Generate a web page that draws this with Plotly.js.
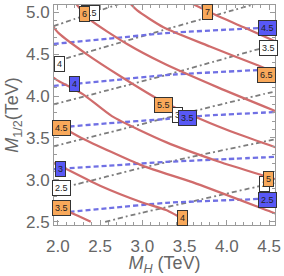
<!DOCTYPE html>
<html>
<head>
<meta charset="utf-8">
<script src="https://cdn.plot.ly/plotly-3.0.1.min.js"></script>
<style>html,body{margin:0;padding:0;background:#fff;}#chart{width:284px;height:276px;}</style>
</head>
<body>
<div id="chart"></div>
<script>
// ---- Data (M_H in TeV, M_1/2 in TeV) ----
// Red solid contours (orange labels)
const redLevels = ['3.5', '4', '4.5', '5', '5.5', '6', '6.5', '7'];
const redX = [
  [1.95, 2.05, 2.11, 2.25, 2.39],
  [1.95, 2.0, 2.5, 3.0, 3.28, 3.54],
  [1.95, 2.0, 2.28, 3.0, 3.6, 4.52, 4.6],
  [1.95, 1.99, 2.3, 2.64, 3.28, 3.9, 4.47, 4.6],
  [1.95, 2.01, 2.34, 2.75, 3.21, 3.68, 4.15, 4.6],
  [2.2, 2.37, 2.82, 3.25, 3.9, 4.6],
  [2.85, 2.94, 3.25, 3.8, 4.38, 4.6],
  [3.55, 3.85, 4.2, 4.6]
];
const redY = [
  [2.72, 2.665, 2.63, 2.565, 2.5],
  [3.2, 3.18, 2.93, 2.73, 2.64, 2.5],
  [3.69, 3.66, 3.5, 3.17, 2.97, 2.62, 2.59],
  [4.22, 4.19, 4.02, 3.76, 3.45, 3.22, 3.04, 3.0],
  [4.82, 4.75, 4.5, 4.23, 3.95, 3.73, 3.54, 3.38],
  [5.12, 4.92, 4.62, 4.39, 4.1, 3.81],
  [5.11, 5.02, 4.82, 4.59, 4.36, 4.27],
  [5.12, 4.975, 4.82, 4.64]
];
// Blue dashed contours (blue labels)
const blueLevels = ['2.5', '3', '3.5', '4', '4.5'];
const blueX = [
  [1.95, 2.6, 3.28, 4.4, 4.6],
  [1.95, 2.6, 3.28, 4.0, 4.6],
  [1.95, 2.6, 3.28, 3.65, 4.6],
  [1.95, 2.6, 3.28, 4.38, 4.6],
  [1.95, 2.6, 3.28, 4.38, 4.6]
];
const blueY = [
  [2.6, 2.663, 2.726, 2.774, 2.79],
  [3.127, 3.169, 3.214, 3.248, 3.276],
  [3.62, 3.675, 3.726, 3.76, 3.81],
  [4.12, 4.183, 4.25, 4.31, 4.32],
  [4.62, 4.683, 4.75, 4.81, 4.82]
];
// Gray dash-dot contours (white labels)
const grayLevels = ['2', '2.5', '3', '3.5', '4', '4.5'];
const grayX = [
  [2.56, 2.99, 3.7, 4.41, 4.6],
  [1.95, 2.15, 2.99, 3.8, 4.6],
  [1.95, 2.6, 3.28, 3.9, 4.44, 4.6],
  [1.95, 2.6, 3.28, 3.85, 4.38, 4.6],
  [1.95, 2.1, 2.7, 3.25, 4.12, 4.33],
  [1.95, 2.2, 2.44, 2.72]
];
const grayY = [
  [2.5, 2.607, 2.768, 2.93, 2.97],
  [2.877, 2.929, 3.143, 3.321, 3.49],
  [3.4, 3.564, 3.738, 3.892, 4.024, 4.06],
  [3.9, 4.071, 4.25, 4.41, 4.56, 4.61],
  [4.41, 4.45, 4.626, 4.786, 5.036, 5.095],
  [4.833, 4.919, 5.0, 5.095]
];
// Contour label positions
const grayLabelText = ['2', '2.5', '3', '3.5', '4', '4.5'];
const grayLabelX = [4.45, 2.047, 3.42, 4.491, 2.024, 2.385];
const grayLabelY = [2.946, 2.905, 3.774, 4.577, 4.387, 4.994];
const blueLabelText = ['2.5', '3', '3.5', '4', '4.5'];
const blueLabelX = [4.479, 2.03, 3.53, 2.201, 4.479];
const blueLabelY = [2.762, 3.131, 3.74, 4.143, 4.815];
const redLabelText = ['3.5', '4', '4.5', '5', '5.5', '6', '6.5', '7'];
const redLabelX = [2.041, 3.479, 2.047, 4.497, 3.254, 2.32, 4.473, 3.775];
const redLabelY = [2.661, 2.542, 3.619, 3.006, 3.893, 4.982, 4.256, 5.0];
// Axis ticks
const xTicks = [2.0, 2.5, 3.0, 3.5, 4.0, 4.5];
const yTicks = [2.5, 3.0, 3.5, 4.0, 4.5, 5.0];

// ---- Build traces ----
const RED = 'rgb(208,108,108)';
const BLUE = 'rgb(112,112,228)';
const GRAY = 'rgb(125,125,125)';
const traces = [];
grayLevels.forEach((lv, i) => traces.push({
  x: grayX[i], y: grayY[i], mode: 'lines', type: 'scatter', name: 'g' + lv,
  line: {color: GRAY, width: 1.8, dash: '5px,3px,2px,3px', shape: 'spline', smoothing: 0.6},
  hoverinfo: 'skip', showlegend: false
}));
blueLevels.forEach((lv, i) => traces.push({
  x: blueX[i], y: blueY[i], mode: 'lines', type: 'scatter', name: 'b' + lv,
  line: {color: BLUE, width: 2.3, dash: '5px,3px', shape: 'spline', smoothing: 0.6},
  hoverinfo: 'skip', showlegend: false
}));
redLevels.forEach((lv, i) => traces.push({
  x: redX[i], y: redY[i], mode: 'lines', type: 'scatter', name: 'r' + lv,
  line: {color: RED, width: 2.2, shape: 'spline', smoothing: 0.6},
  hoverinfo: 'skip', showlegend: false
}));

function labels(texts, xs, ys, fill) {
  return texts.map((t, i) => ({
    x: xs[i], y: ys[i], xref: 'x', yref: 'y', text: t, showarrow: false,
    bgcolor: fill, bordercolor: '#333', borderwidth: 1, borderpad: 2,
    font: {family: 'Liberation Sans, Arial, sans-serif', size: 9, color: '#222'}
  }));
}
const annotations = [].concat(
  labels(grayLabelText, grayLabelX, grayLabelY, '#ffffff'),
  labels(blueLabelText, blueLabelX, blueLabelY, 'rgb(88,88,245)'),
  labels(redLabelText, redLabelX, redLabelY, 'rgb(248,168,90)')
);

const axisCommon = {
  showgrid: false, zeroline: false, showline: true, linecolor: '#9a9a9a', linewidth: 1,
  mirror: 'ticks', ticks: 'inside', ticklen: 5, tickcolor: '#9a9a9a', tickwidth: 1,
  tickformat: '.1f', tickmode: 'array',
  tickfont: {family: 'Liberation Sans, Arial, sans-serif', size: 17, color: '#666'},
  minor: {dtick: 0.1, ticks: 'inside', ticklen: 3, tickcolor: '#9a9a9a', tickwidth: 1}
};
const layout = {
  width: 284, height: 276,
  margin: {l: 54, r: 9, t: 5, b: 51, pad: 0},
  paper_bgcolor: '#fff', plot_bgcolor: '#fff',
  showlegend: false,
  xaxis: Object.assign({}, axisCommon, {
    range: [1.955, 4.57], tickvals: xTicks, ticklabelstandoff: 6,
    title: {text: '<i>M<sub>H</sub></i> (TeV)', standoff: 8,
      font: {family: 'Liberation Sans, Arial, sans-serif', size: 18, color: '#666'}}
  }),
  yaxis: Object.assign({}, axisCommon, {
    range: [2.462, 5.085], tickvals: yTicks,
    title: {text: '<i>M</i><sub>1/2</sub>(TeV)', standoff: 2,
      font: {family: 'Liberation Sans, Arial, sans-serif', size: 18, color: '#666'}}
  }),
  annotations: annotations
};
Plotly.newPlot('chart', traces, layout, {staticPlot: true, displayModeBar: false});
</script>
</body>
</html>
